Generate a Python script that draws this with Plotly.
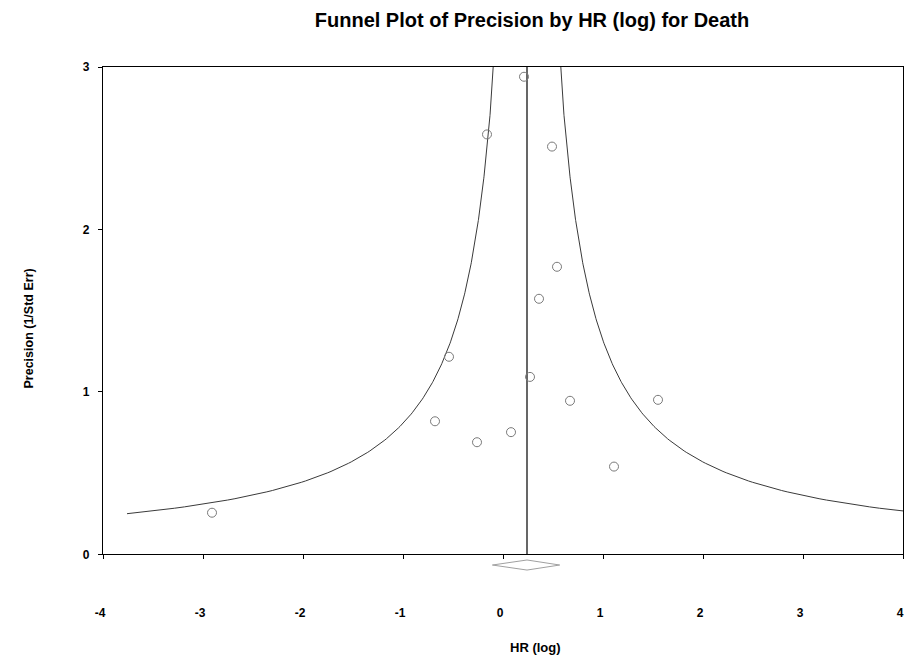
import numpy as np
import plotly.graph_objects as go

# ---- data ----
hr_log = [0.21, -0.16, 0.49, 0.54, 0.36, -0.54, 0.27, 0.67, 1.55, -0.68, 0.08, -0.26, 1.11, -2.91]
precision = [2.94, 2.585, 2.51, 1.77, 1.573, 1.216, 1.092, 0.945, 0.951, 0.819, 0.752, 0.69, 0.54, 0.256]
pooled_est = 0.24
pooled_lo = -0.106
pooled_hi = 0.567
funnel_k = 1.0                 # funnel half-width = k * SE
funnel_prec_min = 0.25
funnel_prec_max = 3.6
x_ticks = [-4, -3, -2, -1, 0, 1, 2, 3, 4]
y_ticks = [0, 1, 2, 3]

# ---- layout constants (page is offset by the 8px body margin) ----
OFF = 8
W, H = 916, 663
ML = 103 - OFF
MT = 67 - OFF
MR = W - (903 - OFF)
MB = 20
plot_h = H - MT - MB
plot_w = W - ML - MR
main_bottom_px = 554.3 - OFF
D = (H - MB - main_bottom_px) / plot_h
main_scale = (main_bottom_px - MT) / 3.0      # px per y unit
y2_range = [-(D * plot_h) / main_scale, 0]
diamond_y = -0.066
diamond_half = 0.031
FONT = "Liberation Sans, Arial, sans-serif"

# funnel curves
p = np.linspace(funnel_prec_min, funnel_prec_max, 400)
se = 1.0 / p
left_x = pooled_est - funnel_k * se
right_x = pooled_est + funnel_k * se

fig = go.Figure()
fig.add_trace(go.Scatter(x=left_x, y=p, mode="lines", line=dict(color="#3a3a3a", width=1),
                         hoverinfo="skip", showlegend=False))
fig.add_trace(go.Scatter(x=right_x, y=p, mode="lines", line=dict(color="#3a3a3a", width=1),
                         hoverinfo="skip", showlegend=False))
fig.add_trace(go.Scatter(x=[pooled_est, pooled_est], y=[0, 3], mode="lines",
                         line=dict(color="black", width=1.2), hoverinfo="skip", showlegend=False))
fig.add_trace(go.Scatter(x=hr_log, y=precision, mode="markers",
                         marker=dict(symbol="circle-open", size=9, color="#7a7a7a",
                                     line=dict(width=1, color="#7a7a7a")),
                         showlegend=False))
# summary diamond (below axis, on hidden y2)
fig.add_trace(go.Scatter(x=[pooled_lo, pooled_est, pooled_hi, pooled_est, pooled_lo],
                         y=[diamond_y, diamond_y + diamond_half, diamond_y,
                            diamond_y - diamond_half, diamond_y],
                         mode="lines", line=dict(color="#a0a0a0", width=1),
                         xaxis="x", yaxis="y2", hoverinfo="skip", showlegend=False))

fig.update_layout(
    width=W, height=H,
    margin=dict(l=ML, r=MR, t=MT, b=MB),
    plot_bgcolor="white", paper_bgcolor="white",
    font=dict(family=FONT, color="black"),
    title=dict(text="<b>Funnel Plot of Precision by HR (log) for Death</b>",
               x=(532 - OFF) / W, xanchor="center", y=1 - (20 - OFF) / H, yanchor="middle",
               font=dict(size=20, family=FONT, color="black")),
    xaxis=dict(range=[-4, 4], tickvals=x_ticks, ticktext=[f"<b>{v}</b>" for v in x_ticks],
               ticks="outside", ticklen=4, tickcolor="black", showline=True, linecolor="black",
               linewidth=1.2, mirror=True, showgrid=False, zeroline=False, anchor="y",
               ticklabelstandoff=43, ticklabelshift=-3, tickfont=dict(size=12, family=FONT)),
    yaxis=dict(range=[0, 3], tickvals=y_ticks, ticktext=[f"<b>{v}</b>" for v in y_ticks],
               ticks="outside", ticklen=4, tickcolor="black", showline=True, linecolor="black",
               linewidth=1.2, mirror=True, showgrid=False, zeroline=False,
               ticklabelstandoff=6,
               domain=[D, 1], tickfont=dict(size=12, family=FONT)),
    yaxis2=dict(domain=[0, D], range=y2_range, visible=False, anchor="x"),
    annotations=[
        dict(text="<b>HR (log)</b>", xref="paper", yref="paper", x=(535 - OFF - ML) / plot_w, y=0,
             yshift=-((647.7 - OFF) - (H - MB)), showarrow=False, xanchor="center", yanchor="middle",
             font=dict(size=13, family=FONT)),
        dict(text="<b>Precision (1/Std Err)</b>", xref="paper", yref="paper",
             x=(28 - OFF - ML) / plot_w, y=(H - MB - (328.5 - OFF)) / plot_h, textangle=-90,
             showarrow=False, xanchor="center", yanchor="middle",
             font=dict(size=12.5, family=FONT)),
    ],
)

fig.write_html("out.html")
